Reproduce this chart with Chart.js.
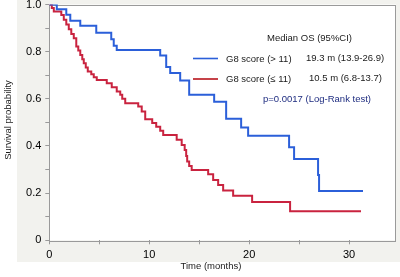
<!DOCTYPE html>
<html>
<head>
<meta charset="utf-8">
<script src="https://cdn.jsdelivr.net/npm/chart.js@4/dist/chart.umd.min.js"></script>
<style>
html,body{margin:0;padding:0;background:#fff;}
#wrap{width:400px;height:277px;}
</style>
</head>
<body>
<div id="wrap"><canvas id="c" width="400" height="277"></canvas></div>
<script>
// ---- data ----
const seriesLabels = ["G8 score (> 11)", "G8 score (\u2264 11)"];
const medianLabels = ["19.3 m (13.9-26.9)", "10.5 m (6.8-13.7)"];
const legendTitle = "Median OS (95%CI)";
const pValueText = "p=0.0017 (Log-Rank test)";
const xTitle = "Time (months)";
const yTitle = "Survival probability";

const blueTimes = [0, 0.75, 1.7, 2.1, 3.1, 4.7, 6.2, 6.45, 6.75, 11.1, 11.7, 12.1, 13.1, 14.0, 16.5, 17.7, 19.2, 19.9, 24.0, 24.5, 26.9, 27.0, 31.4];
const blueSurv  = [1.0, 0.98, 0.957, 0.931, 0.91, 0.88, 0.853, 0.825, 0.807, 0.784, 0.735, 0.709, 0.678, 0.617, 0.588, 0.515, 0.478, 0.443, 0.395, 0.345, 0.277, 0.209, 0.209];

const redTimes = [0, 0.25, 0.45, 1.2, 1.45, 1.7, 1.95, 2.2, 2.45, 2.7, 2.9, 3.1, 3.3, 3.45, 3.65, 3.85, 4.2, 4.45, 4.75, 5.75, 6.25, 6.75, 7.1, 7.3, 7.6, 8.9, 9.25, 9.6, 10.3, 10.7, 11.1, 11.4, 12.75, 13.25, 13.55, 13.7, 13.8, 14.0, 14.25, 15.9, 16.4, 16.9, 17.4, 18.4, 20.3, 24.1, 31.2];
const redSurv  = [1.0, 0.985, 0.97, 0.955, 0.935, 0.915, 0.895, 0.875, 0.857, 0.822, 0.805, 0.786, 0.768, 0.751, 0.733, 0.716, 0.704, 0.692, 0.68, 0.666, 0.649, 0.631, 0.617, 0.6, 0.581, 0.567, 0.546, 0.513, 0.497, 0.482, 0.465, 0.447, 0.426, 0.404, 0.383, 0.358, 0.334, 0.315, 0.298, 0.28, 0.256, 0.235, 0.211, 0.189, 0.162, 0.123, 0.123];

const xTickValues = [0, 5, 10, 15, 20, 25, 30];
const xTickLabeled = [0, 10, 20, 30];
const yTickValues = [0, 0.1, 0.2, 0.3, 0.4, 0.5, 0.6, 0.7, 0.8, 0.9, 1.0];
const yTickLabels = {0: "0", 0.2: "0.2", 0.4: "0.4", 0.6: "0.6", 0.8: "0.8", 1: "1.0"};

const BLUE = "#2b5fd9";
const RED = "#c9233f";

const toPts = (t, s) => t.map((v, i) => ({x: v, y: s[i]}));

const deco = {
  id: "deco",
  beforeDraw(chart) {
    const ctx = chart.ctx, a = chart.chartArea;
    ctx.save();
    ctx.fillStyle = "#ffffff";
    ctx.fillRect(0, 0, chart.width, chart.height);
    ctx.fillStyle = "#f2f2ee";
    ctx.fillRect(17, 0, chart.width - 17, 262);
    ctx.fillStyle = "#ffffff";
    ctx.fillRect(a.left, a.top, a.right - a.left, a.bottom - a.top);
    ctx.restore();
  },
  beforeDatasetsDraw(chart) {
    const ctx = chart.ctx, a = chart.chartArea;
    ctx.save();
    ctx.strokeStyle = "#9a9a9a";
    ctx.lineWidth = 1;
    ctx.strokeRect(Math.round(a.left) + 0.5, Math.round(a.top) + 0.5, Math.round(a.right - a.left) - 1, Math.round(a.bottom - a.top));
    ctx.restore();
  },
  afterDraw(chart) {
    const ctx = chart.ctx;
    ctx.save();
    ctx.textBaseline = "middle";
    ctx.textAlign = "left";
    ctx.font = "9.5px 'Liberation Sans', Arial, sans-serif";
    ctx.fillStyle = "#1a1a1a";
    ctx.fillText(legendTitle, 267, 38.5);
    // legend lines
    ctx.lineWidth = 1.6;
    ctx.strokeStyle = BLUE;
    ctx.beginPath(); ctx.moveTo(193, 58.5); ctx.lineTo(218, 58.5); ctx.stroke();
    ctx.strokeStyle = "#b8141c";
    ctx.beginPath(); ctx.moveTo(193, 79); ctx.lineTo(218, 79); ctx.stroke();
    ctx.fillStyle = "#1a1a1a";
    ctx.fillText(seriesLabels[0], 226, 59);
    ctx.fillText(seriesLabels[1], 226, 79.5);
    ctx.fillText(medianLabels[0], 306, 58.5);
    ctx.fillText(medianLabels[1], 309, 78.5);
    ctx.fillStyle = "#1f2d80";
    ctx.fillText(pValueText, 263, 99.5);
    // axis titles
    ctx.fillStyle = "#1a1a1a";
    ctx.textAlign = "center";
    ctx.fillText(xTitle, 211, 266);
    ctx.translate(8, 120);
    ctx.rotate(-Math.PI / 2);
    ctx.fillText(yTitle, 0, 0);
    ctx.restore();
  }
};

new Chart(document.getElementById("c"), {
  type: "line",
  data: {
    datasets: [
      {label: seriesLabels[0], data: toPts(blueTimes, blueSurv), borderColor: BLUE, borderWidth: 2, stepped: "before", pointRadius: 0, fill: false},
      {label: seriesLabels[1], data: toPts(redTimes, redSurv), borderColor: RED, borderWidth: 2, stepped: "before", pointRadius: 0, fill: false}
    ]
  },
  options: {
    responsive: false,
    animation: false,
    devicePixelRatio: 1,
    layout: {padding: {top: 4.5, right: 4, left: 0, bottom: 0}},
    plugins: {legend: {display: false}, tooltip: {enabled: false}},
    scales: {
      x: {
        type: "linear", min: 0, max: 34.7,
        border: {display: false},
        grid: {drawOnChartArea: false, drawTicks: true, tickLength: 4, color: "#9a9a9a"},
        ticks: {
          autoSkip: false, maxRotation: 0, padding: 4, color: "#000000",
          font: {family: "'Liberation Sans', Arial, sans-serif", size: 11},
          callback: (v) => xTickLabeled.includes(v) ? String(v) : ""
        },
        afterBuildTicks: (s) => { s.ticks = xTickValues.map(v => ({value: v})); },
        afterFit: (s) => { s.height = 36.7; s.paddingLeft = 0; s.paddingRight = 0; }
      },
      y: {
        type: "linear", min: 0, max: 1,
        border: {display: false},
        grid: {drawOnChartArea: false, drawTicks: true, tickLength: 4, color: "#9a9a9a"},
        ticks: {
          autoSkip: false, padding: 4, color: "#000000",
          font: {family: "'Liberation Sans', Arial, sans-serif", size: 11},
          callback: (v) => { const k = Math.round(v * 10) / 10; return (k in yTickLabels) ? yTickLabels[k] : ""; }
        },
        afterBuildTicks: (s) => { s.ticks = yTickValues.map(v => ({value: v})); },
        afterFit: (s) => { s.width = 49.3; s.paddingTop = 0; s.paddingBottom = 0; }
      }
    }
  },
  plugins: [deco]
});
</script>
</body>
</html>
